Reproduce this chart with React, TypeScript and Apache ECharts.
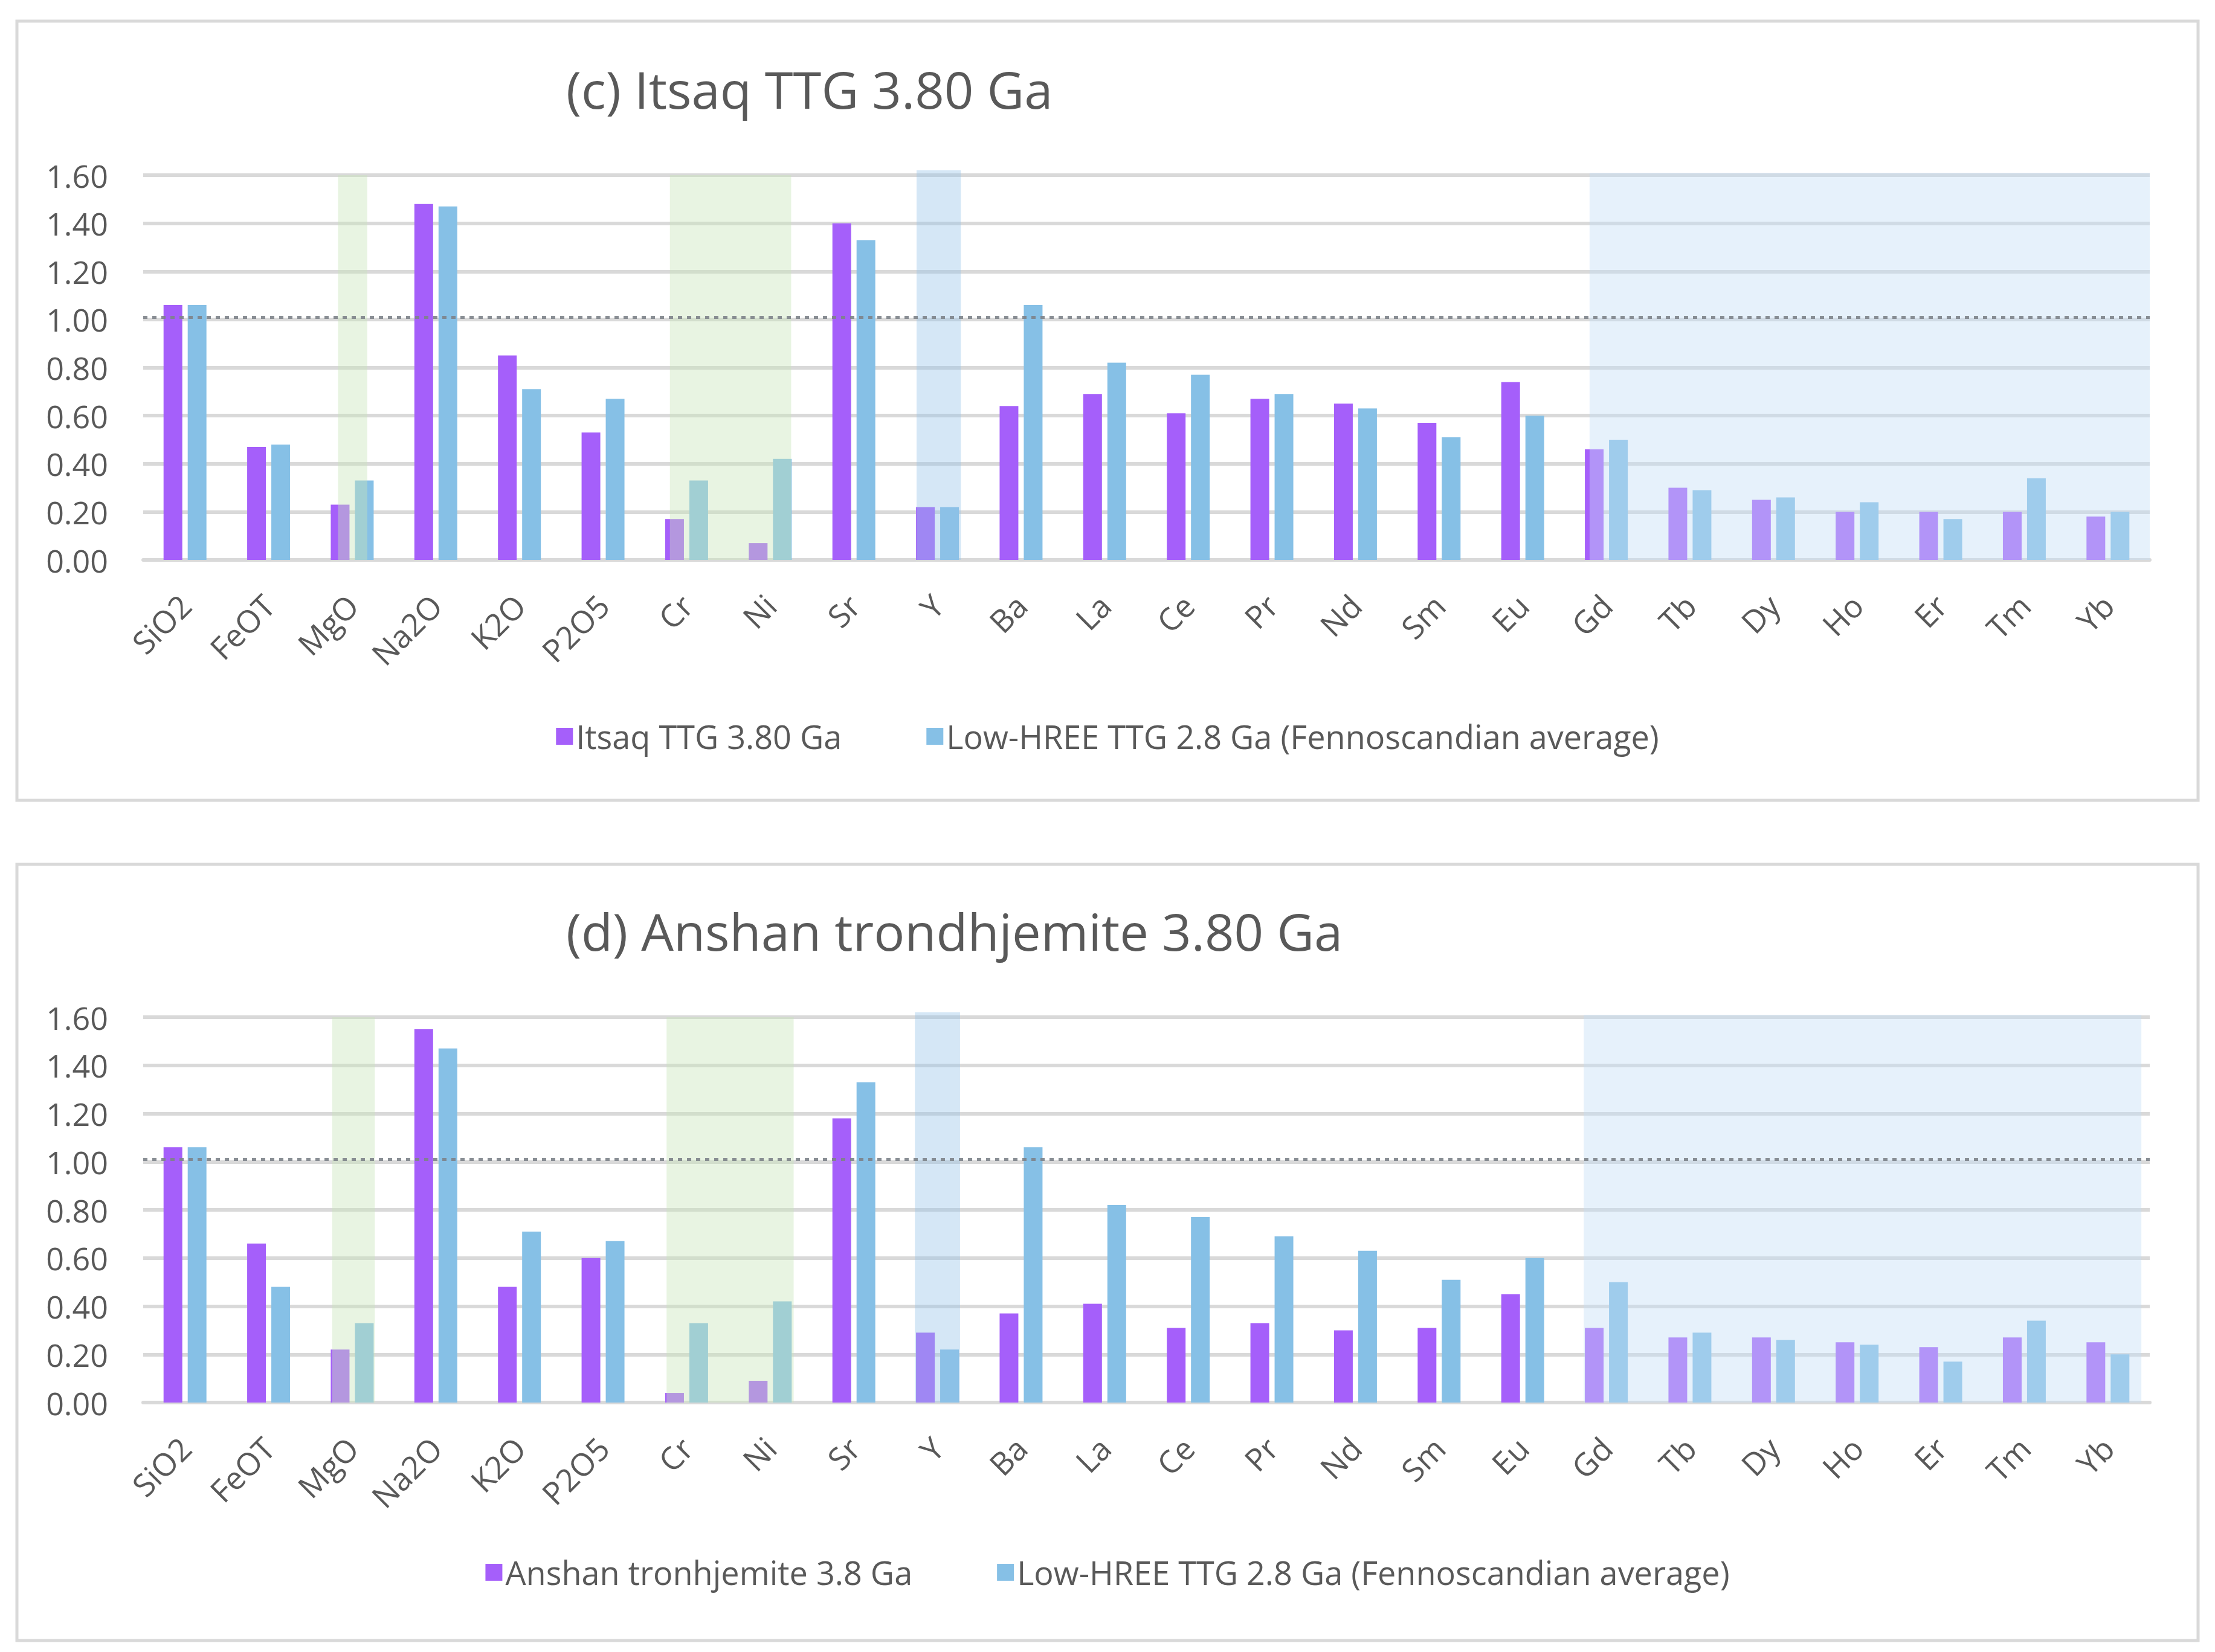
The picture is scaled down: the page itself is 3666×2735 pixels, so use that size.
import React, { useEffect, useRef } from "react";
import * as echarts from "echarts";

// ---------- data ----------
const categories = [
  "SiO2", "FeOT", "MgO", "Na2O", "K2O", "P2O5", "Cr", "Ni", "Sr", "Y", "Ba", "La",
  "Ce", "Pr", "Nd", "Sm", "Eu", "Gd", "Tb", "Dy", "Ho", "Er", "Tm", "Yb",
];
const itsaqValues = [
  1.06, 0.47, 0.23, 1.48, 0.85, 0.53, 0.17, 0.07, 1.40, 0.22, 0.64, 0.69,
  0.61, 0.67, 0.65, 0.57, 0.74, 0.46, 0.30, 0.25, 0.20, 0.20, 0.20, 0.18,
];
const anshanValues = [
  1.06, 0.66, 0.22, 1.55, 0.48, 0.60, 0.04, 0.09, 1.18, 0.29, 0.37, 0.41,
  0.31, 0.33, 0.30, 0.31, 0.45, 0.31, 0.27, 0.27, 0.25, 0.23, 0.27, 0.25,
];
const fennoValues = [
  1.06, 0.48, 0.33, 1.47, 0.71, 0.67, 0.33, 0.42, 1.33, 0.22, 1.06, 0.82,
  0.77, 0.69, 0.63, 0.51, 0.60, 0.50, 0.29, 0.26, 0.24, 0.17, 0.34, 0.20,
];
const titleC = "(c) Itsaq TTG 3.80 Ga";
const titleD = "(d) Anshan trondhjemite 3.80 Ga";
const nameItsaq = "Itsaq TTG 3.80 Ga";
const nameAnshan = "Anshan tronhjemite 3.8 Ga";
const nameFenno = "Low-HREE TTG 2.8 Ga (Fennoscandian average)";
const yMin = 0;
const yMax = 1.6;
const yStep = 0.2;
const referenceLevel = 1.01;
// shaded element groups: first category, last category, top value, kind
const bandFrom = ["MgO", "Cr", "Y", "Gd"];
const bandTo = ["MgO", "Ni", "Y", "Yb"];
const bandTop = [1.6, 1.6, 1.62, 1.61];
const bandKind = ["green", "green", "blue", "hree"];

// ---------- styles ----------
const FONT = "'Open Sans', 'Noto Sans', sans-serif";
const TEXT = "#595959";
const PURPLE = "#a55ffa";
const BLUE = "#86c0e6";
const GRID_LINE = "#d9d9d9";
const BAND_FILL: Record<string, string> = {
  green: "rgba(200,228,185,0.42)",
  blue: "rgba(150,195,232,0.4)",
  hree: "rgba(195,222,245,0.42)",
};
const padsC = [[0.17, 0.18], [0.2, 0.25], [0.25, 0.28], [0.2, 0.5]];
const padsD = [[0.24, 0.27], [0.24, 0.28], [0.27, 0.27], [0.27, 0.4]];

const panels = [
  { title: titleC, main: nameItsaq, mainValues: itsaqValues, gridTop: 290, gridH: 637, titleY: 142, legendTop: 1187, pads: padsC, frameTop: 35, frameH: 1290 },
  { title: titleD, main: nameAnshan, mainValues: anshanValues, gridTop: 1684, gridH: 638, titleY: 1536, legendTop: 2571, pads: padsD, frameTop: 1431, frameH: 1285 },
];

function buildOption() {
  const bandData = bandFrom.map((f, i) => [
    categories.indexOf(f),
    categories.indexOf(bandTo[i]),
    bandTop[i],
    i,
  ]);

  const grid: any[] = [];
  const xAxis: any[] = [];
  const yAxis: any[] = [];
  const series: any[] = [];
  const title: any[] = [];
  const legend: any[] = [];
  const graphic: any[] = [];

  panels.forEach((p, k) => {
    grid.push({ left: 237, width: 3321, top: p.gridTop, height: p.gridH, containLabel: false });
    xAxis.push({
      type: "category",
      gridIndex: k,
      data: categories,
      axisTick: { show: false },
      axisLine: { show: true, lineStyle: { color: GRID_LINE, width: 6 } },
      axisLabel: {
        rotate: 45,
        interval: 0,
        margin: 66,
        padding: [65, 0, 0, 0],
        fontSize: 52,
        fontFamily: FONT,
        color: TEXT,
      },
    });
    yAxis.push({
      type: "value",
      gridIndex: k,
      min: yMin,
      max: yMax,
      interval: yStep,
      axisLine: { show: false },
      axisTick: { show: false },
      splitLine: { show: true, lineStyle: { color: GRID_LINE, width: 6 } },
      axisLabel: {
        margin: 58,
        fontSize: 52,
        fontFamily: FONT,
        color: TEXT,
        formatter: (v: number) => v.toFixed(2),
      },
    });
    series.push({
      type: "bar",
      name: p.main,
      xAxisIndex: k,
      yAxisIndex: k,
      data: p.mainValues,
      barWidth: "22.4%",
      barGap: "29%",
      itemStyle: { color: PURPLE },
      z: 2,
    });
    series.push({
      type: "bar",
      name: nameFenno,
      xAxisIndex: k,
      yAxisIndex: k,
      data: fennoValues,
      barWidth: "22.4%",
      barGap: "29%",
      itemStyle: { color: BLUE },
      z: 2,
    });
    const pads = p.pads;
    series.push({
      type: "custom",
      name: "bands" + k,
      xAxisIndex: k,
      yAxisIndex: k,
      data: bandData,
      encode: { x: [0, 1], y: 2 },
      silent: true,
      z: 3,
      renderItem: (params: any, api: any) => {
        const i0 = api.value(0);
        const i1 = api.value(1);
        const top = api.value(2);
        const idx = api.value(3);
        const bw = api.size([1, 0])[0];
        const p0 = api.coord([i0, 0]);
        const p1 = api.coord([i1, top]);
        const x0 = p0[0] - pads[idx][0] * bw;
        const x1 = p1[0] + pads[idx][1] * bw;
        return {
          type: "rect",
          shape: { x: x0, y: p1[1], width: x1 - x0, height: p0[1] - p1[1] },
          style: { fill: BAND_FILL[bandKind[idx]] },
        };
      },
    });
    series.push({
      type: "line",
      name: "ref" + k,
      xAxisIndex: k,
      yAxisIndex: k,
      data: [],
      z: 4,
      markLine: {
        silent: true,
        symbol: "none",
        label: { show: false },
        lineStyle: { color: "#7d838a", width: 5, type: [7, 8], opacity: 0.9 },
        data: [{ yAxis: referenceLevel }],
      },
    });
    title.push({
      text: p.title,
      left: 932,
      top: p.titleY,
      textVerticalAlign: "middle",
      textStyle: { fontSize: 85, fontWeight: "normal", fontFamily: FONT, color: TEXT },
    });
    legend.push({
      data: [p.main, nameFenno],
      left: "center",
      top: p.legendTop,
      icon: "rect",
      itemWidth: 28,
      itemHeight: 28,
      itemGap: 140,
      textStyle: { fontSize: 54, fontFamily: FONT, color: TEXT },
    });
    graphic.push({
      type: "rect",
      shape: { x: 28, y: p.frameTop, width: 3610, height: p.frameH },
      style: { fill: "none", stroke: GRID_LINE, lineWidth: 5 },
      silent: true,
      z: -10,
    });
  });

  return {
    animation: false,
    backgroundColor: "#ffffff",
    title,
    legend,
    grid,
    xAxis,
    yAxis,
    series,
    graphic,
  };
}

export default function App() {
  const ref = useRef<HTMLDivElement>(null);
  useEffect(() => {
    if (!ref.current) return;
    const chart = echarts.init(ref.current, undefined, { renderer: "svg" });
    chart.setOption(buildOption() as any);
    return () => chart.dispose();
  }, []);
  return (
    <div
      ref={ref}
      style={{ position: "absolute", left: 0, top: 0, width: 3666, height: 2735, background: "#fff" }}
    />
  );
}
